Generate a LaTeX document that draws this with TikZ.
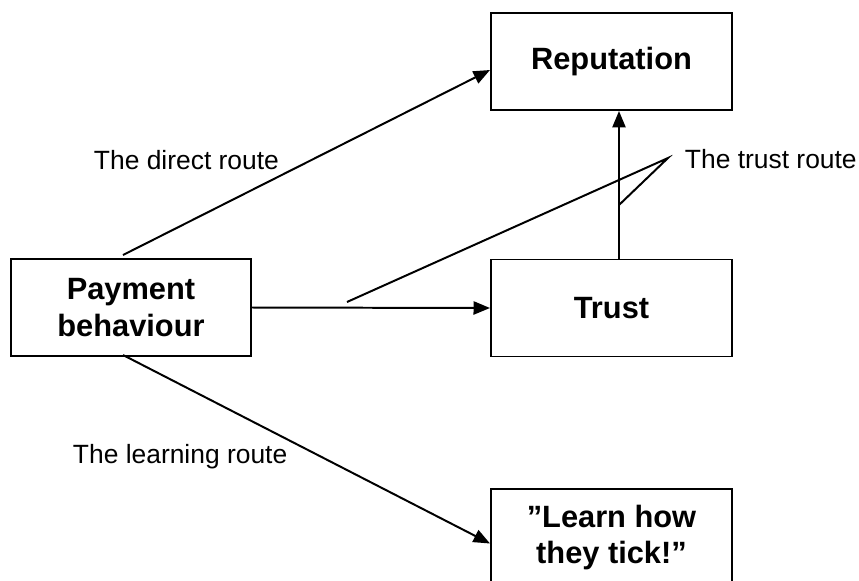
\documentclass[tikz,border=0pt]{standalone}
\usepackage{fontspec}
\setmainfont{Liberation Sans}
\usetikzlibrary{arrows.meta,calc}
\begin{document}
\begin{tikzpicture}[x=0.4545pt,y=-0.4545pt,
  line width=0.9pt,
  boxnode/.style={draw,line width=0.9pt,minimum width=241*0.4545pt,minimum height=97*0.4545pt,inner sep=0pt,align=center,font=\fontsize{14}{16.5}\selectfont\bfseries},
  lbl/.style={font=\fontsize{12}{14}\selectfont,inner sep=0pt},
  arr/.style={-{Triangle[length=7.5pt,width=6pt]}}]
\clip (0,0) rectangle (859,581);
\node[boxnode] (rep) at (611.5,61.5) {Reputation};
\node[boxnode] (trust) at (611.5,308) {Trust};
\node[boxnode,minimum width=240*0.4545pt] (pay) at (131,307.5) {Payment\\behaviour};
\node[boxnode] (learn) at (611.5,537.5) {”Learn how\\they tick!”};
\node[lbl,anchor=base west] (ldirect) at (93,169) {The direct route};
\node[lbl,anchor=base west] (ltrust) at (684,168) {The trust route};
\node[lbl,anchor=base west] (llearn) at (72,463) {The learning route};
\draw[arr] ($(pay.north)+(-8,-3)$) -- ($(rep.west)+(0,8.5)$);
\draw[arr] (pay.east) -- (trust.west);
\draw[arr] ($(trust.north)+(7.5,0)$) coordinate (tv) -- (tv |- rep.south);
\draw[arr] ($(pay.south)+(-8,-2)$) -- ($(learn.west)+(0,6)$);
\coordinate (cv) at (668,158);
\coordinate (ca) at (347,302);
\coordinate (cb) at (tv |- 0,205);
\draw (ca) -- (cv) -- (cb);
\end{tikzpicture}
\end{document}
